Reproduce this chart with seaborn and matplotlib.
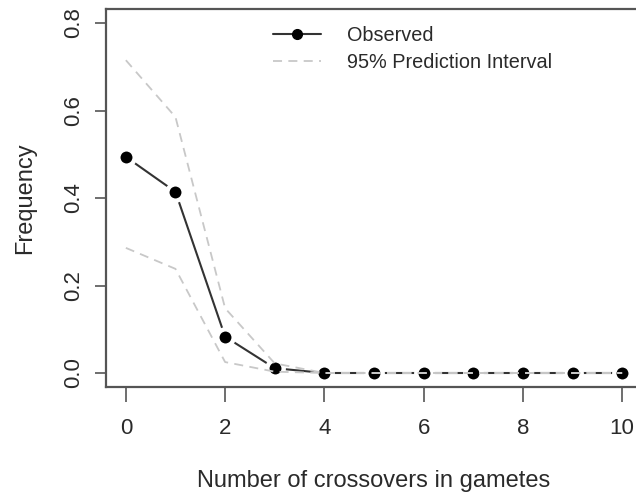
import seaborn as sns
from matplotlib import pyplot as plt
import numpy as np
import pandas as pd

crossovers = [0, 1, 2, 3, 4, 5, 6, 7, 8, 9, 10]
observed = [0.494, 0.414, 0.083, 0.011, 0.0, 0.0, 0.0, 0.0, 0.0, 0.0, 0.0]
pi_upper = [0.715, 0.585, 0.148, 0.022, 0.0, 0.0, 0.0, 0.0, 0.0, 0.0, 0.0]
pi_lower = [0.286, 0.238, 0.025, 0.003, 0.0, 0.0, 0.0, 0.0, 0.0, 0.0, 0.0]
xticks = [0, 2, 4, 6, 8, 10]
yticks = [0.0, 0.2, 0.4, 0.6, 0.8]

sns.set_style("white")
plt.rcParams['font.family'] = ['Liberation Sans', 'DejaVu Sans']

data = pd.DataFrame({'x': crossovers, 'obs': observed, 'hi': pi_upper, 'lo': pi_lower})

fig = plt.figure(figsize=(6.36, 5.01), dpi=100)
ax = fig.add_axes([106/636, 114/501, 536/636, 378/501])

axcol = '#555555'
txtcol = '#2a2a2a'
dash = (5, 3.5)

sns.lineplot(data=data, x='x', y='obs', ax=ax, color='#333333', linewidth=1.5,
             marker='o', markersize=11.8, label='Observed')
sns.lineplot(data=data, x='x', y='hi', ax=ax, color='#c8c8c8', linewidth=1.3,
             label='95% Prediction Interval')
sns.lineplot(data=data, x='x', y='lo', ax=ax, color='#c8c8c8', linewidth=1.3,
             legend=False)
lines = ax.get_lines()
lines[0].set_markerfacecolor('black')
lines[0].set_markeredgecolor('white')
lines[0].set_markeredgewidth(3.2)
for ln in lines[1:]:
    ln.set_dashes(dash)

ax.set_xlim(-0.4, 10.4)
ax.set_ylim(-0.032, 0.832)
ax.set_xticks(xticks)
ax.set_yticks(yticks)
ax.set_yticklabels(['%.1f' % v for v in yticks], rotation=90, va='center')
ax.tick_params(axis='x', direction='out', length=10.5, width=1.2, color=axcol,
               labelsize=16, labelcolor=txtcol, pad=12, bottom=True)
ax.tick_params(axis='y', direction='out', length=8, width=1.2, color=axcol,
               labelsize=16, labelcolor=txtcol, pad=8, left=True)
for s in ax.spines.values():
    s.set_visible(True)
    s.set_color(axcol)
    s.set_linewidth(1.6)

ax.set_xlabel('Number of crossovers in gametes', fontsize=17, color=txtcol, labelpad=22)
ax.set_ylabel('Frequency', fontsize=17, color=txtcol, labelpad=19)

leg = ax.legend(loc='upper left', bbox_to_anchor=(0.311, 0.955), frameon=False,
                fontsize=14.3, handlelength=2.45, handletextpad=1.3, labelspacing=0.42,
                borderpad=0, borderaxespad=0)
for t in leg.get_texts():
    t.set_color(txtcol)
hl = leg.legend_handles
hl[0].set_markerfacecolor('black')
hl[0].set_markeredgecolor('black')
hl[0].set_markeredgewidth(1)
hl[0].set_markersize(7)
hl[1].set_dashes(dash)

fig.savefig('out.png', dpi=100)
